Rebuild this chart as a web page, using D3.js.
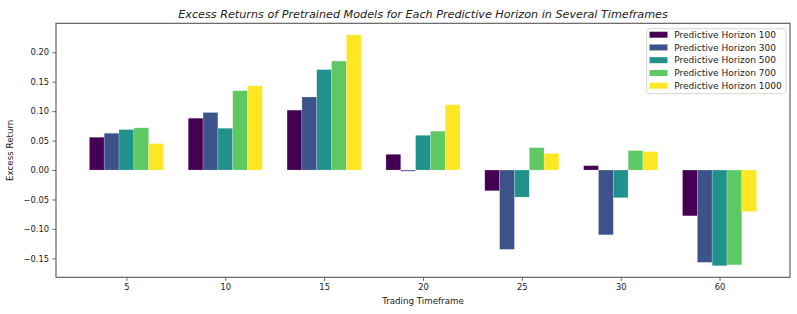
<!DOCTYPE html>
<html>
<head>
<meta charset="utf-8">
<script src="https://cdn.jsdelivr.net/npm/d3@7"></script>
<style>
  html, body { margin: 0; padding: 0; background: #fff; }
  svg { display: block; font-family: "DejaVu Sans", sans-serif; }
</style>
</head>
<body>
<svg id="chart" width="797" height="314"></svg>
<script>
const categories = ["5", "10", "15", "20", "25", "30", "60"];
const seriesNames = ["Predictive Horizon 100", "Predictive Horizon 300", "Predictive Horizon 500", "Predictive Horizon 700", "Predictive Horizon 1000"];
const h100  = [0.0557, 0.088, 0.1017, 0.0267, -0.0352, 0.0074, -0.0778];
const h300  = [0.0625, 0.0977, 0.124, -0.002, -0.1347, -0.110, -0.1568];
const h500  = [0.0687, 0.071, 0.1705, 0.059, -0.046, -0.047, -0.1625];
const h700  = [0.0716, 0.1347, 0.185, 0.066, 0.038, 0.033, -0.161];
const h1000 = [0.0449, 0.143, 0.2295, 0.1108, 0.0284, 0.0313, -0.0705];
const seriesValues = [h100, h300, h500, h700, h1000];
const colors = ["#440154", "#3b528b", "#21918c", "#5ec962", "#fde725"];
const yTicks = [-0.15, -0.10, -0.05, 0.00, 0.05, 0.10, 0.15, 0.20];

const svg = d3.select("#chart");
const L = 56, R = 790, T = 23.3, B = 277.3;
const barW = 0.15;

const x = d3.scaleLinear().domain([-0.7125, categories.length - 1 + 0.7125]).range([L, R]);
const allVals = seriesValues.flat();
const vmin = d3.min(allVals), vmax = d3.max(allVals);
const pad = (vmax - vmin) * 0.05;
const y = d3.scaleLinear().domain([vmin - pad, vmax + pad]).range([B, T]);

// bars
seriesValues.forEach((vals, si) => {
  const off = (si - 2) * barW;
  svg.append("g").selectAll("rect").data(vals).enter().append("rect")
    .attr("x", (d, i) => x(i + off - barW / 2))
    .attr("width", x(barW) - x(0))
    .attr("y", d => y(Math.max(0, d)))
    .attr("height", d => Math.abs(y(d) - y(0)))
    .attr("fill", colors[si])
    .attr("stroke", "rgba(255,255,255,0.35)")
    .attr("stroke-width", 0.6);
});

// axes
const axisColor = "#555";
const yAxis = svg.append("g").attr("transform", `translate(${L},0)`)
  .call(d3.axisLeft(y).tickValues(yTicks).tickFormat(d => d3.format(".2f")(d).replace("-", "\u2212")).tickSize(3.5).tickPadding(3.5));
const xAxis = svg.append("g").attr("transform", `translate(0,${B})`)
  .call(d3.axisBottom(x).tickValues(d3.range(categories.length)).tickFormat(i => categories[i]).tickSize(3.5).tickPadding(3));
[yAxis, xAxis].forEach(g => {
  g.select(".domain").remove();
  g.selectAll("line").attr("stroke", axisColor).attr("stroke-width", 0.9);
  g.selectAll("text").attr("fill", "#222").style("font-size", "8.3px").style("font-family", "DejaVu Sans");
});

// frame
svg.append("rect").attr("x", L).attr("y", T).attr("width", R - L).attr("height", B - T)
  .attr("fill", "none").attr("stroke", axisColor).attr("stroke-width", 1.1);

// title
svg.append("text").attr("x", (L + R) / 2).attr("y", 17.5).attr("text-anchor", "middle")
  .style("font-size", "11.2px").style("font-style", "italic").attr("fill", "#222")
  .text("Excess Returns of Pretrained Models for Each Predictive Horizon in Several Timeframes");

// axis labels
svg.append("text").attr("x", (L + R) / 2).attr("y", 304).attr("text-anchor", "middle")
  .style("font-size", "8.7px").attr("fill", "#222").text("Trading Timeframe");
svg.append("text").attr("transform", `translate(13,${(T + B) / 2}) rotate(-90)`).attr("text-anchor", "middle")
  .style("font-size", "8.7px").attr("fill", "#222").text("Excess Return");

// legend
const lg = svg.append("g");
lg.append("rect").attr("x", 646.7).attr("y", 28.7).attr("width", 139.3).attr("height", 65)
  .attr("rx", 2).attr("fill", "#fff").attr("fill-opacity", 0.8).attr("stroke", "#ccc").attr("stroke-width", 0.8);
seriesNames.forEach((n, i) => {
  const cy = 34.7 + i * 12.75;
  lg.append("rect").attr("x", 649.5).attr("y", cy - 3).attr("width", 18).attr("height", 6).attr("fill", colors[i]);
  lg.append("text").attr("x", 674.3).attr("y", cy + 3.2).style("font-size", "9px").attr("fill", "#222").text(n);
});
</script>
</body>
</html>
